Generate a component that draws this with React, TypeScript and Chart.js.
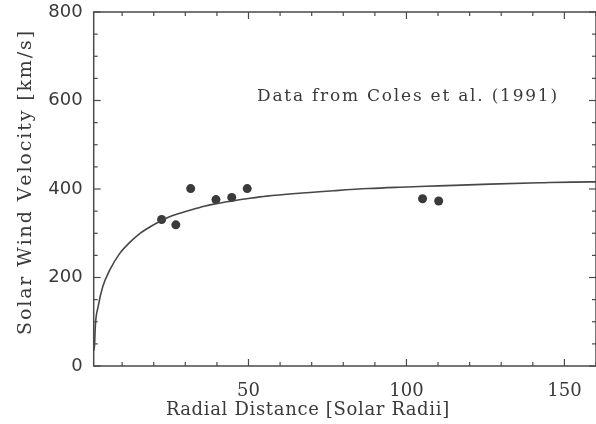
import React, { useEffect, useRef } from "react";
import { Chart, registerables } from "chart.js";

Chart.register(...registerables);

// Observed data points (Coles et al. 1991)
const obsX = [22.5, 27.0, 31.7, 39.7, 44.7, 49.6, 105.1, 110.2];
const obsY = [331, 319, 401, 376, 381, 401, 378, 373];

// Model curve
const curveX = [1.1, 1.3, 1.5, 2.4, 3.9, 6.1, 9.2, 12.5, 15, 18.5, 22.5, 26, 31.5, 36, 39.9, 45, 50.5, 55.8, 65, 76.8, 88, 97.9, 110, 126.4, 142, 158, 160];
const curveY = [35, 51, 89, 134, 180, 217, 254, 280, 296, 313, 329, 340, 352, 361, 367, 373, 379, 384, 390, 396, 401, 404, 407, 411, 414, 416, 416];

// Ticks
const xTickLabels = [50, 100, 150];
const xMinorTicks = [10, 20, 30, 40, 60, 70, 80, 90, 110, 120, 130, 140, 160];
const yTickLabels = [0, 200, 400, 600, 800];
const yMinorTicks = [50, 100, 150, 250, 300, 350, 450, 500, 550, 650, 700, 750];

const xTitle = "Radial Distance [Solar Radii]";
const yTitle = "Solar Wind Velocity [km/s]";
const noteText = "Data from Coles et al. (1991)";
const noteX = 52.7;
const noteY = 600;

const INK = "#3a3a3a";

function spacedText(ctx: any, text: string, x: number, y: number, targetWidth: number) {
  // draws text centred on x, spreading letters so the text spans targetWidth
  const natural = ctx.measureText(text).width;
  const n = Math.max(text.length - 1, 1);
  const gap = (targetWidth - natural) / n;
  let cx = x - targetWidth / 2;
  for (const ch of text) {
    ctx.fillText(ch, cx, y);
    cx += ctx.measureText(ch).width + gap;
  }
}

const framePlugin = {
  id: "frameTicks",
  afterDraw(chart: any) {
    const { ctx, chartArea: a, scales } = chart;
    const xs = scales.x;
    const ys = scales.y;
    ctx.save();
    ctx.strokeStyle = "#4a4a4a";
    ctx.lineWidth = 1.5;
    ctx.strokeRect(a.left, a.top, a.right - a.left, a.bottom - a.top);
    ctx.lineWidth = 1.2;
    const tick = (x1: number, y1: number, x2: number, y2: number) => {
      ctx.beginPath();
      ctx.moveTo(x1, y1);
      ctx.lineTo(x2, y2);
      ctx.stroke();
    };
    const drawX = (vals: number[], len: number) => {
      vals.forEach((v) => {
        const px = xs.getPixelForValue(v);
        tick(px, a.bottom, px, a.bottom - len);
        tick(px, a.top, px, a.top + len);
      });
    };
    const drawY = (vals: number[], len: number) => {
      vals.forEach((v) => {
        const py = ys.getPixelForValue(v);
        tick(a.left, py, a.left + len, py);
        tick(a.right, py, a.right - len, py);
      });
    };
    drawX(xTickLabels, 7);
    drawX(xMinorTicks, 4);
    drawY(yTickLabels, 7);
    drawY(yMinorTicks, 4);

    ctx.fillStyle = INK;
    ctx.textAlign = "left";
    ctx.textBaseline = "alphabetic";

    // annotation text (left edge at noteX)
    ctx.font = "17px 'DejaVu Serif'";
    const nx = xs.getPixelForValue(noteX);
    spacedText(ctx, noteText, nx + 150, ys.getPixelForValue(noteY), 300);

    // x axis title
    ctx.font = "18px 'DejaVu Serif'";
    spacedText(ctx, xTitle, 308, 415, 284);

    // y axis title (rotated)
    ctx.save();
    ctx.translate(31, (a.top + a.bottom) / 2 - 5);
    ctx.rotate(-Math.PI / 2);
    ctx.font = "19px 'DejaVu Serif'";
    spacedText(ctx, yTitle, 0, 0, 302);
    ctx.restore();

    ctx.restore();
  },
};

export default function App() {
  const ref = useRef<HTMLCanvasElement>(null);
  useEffect(() => {
    if (!ref.current) return;
    const chart = new Chart(ref.current, {
      type: "scatter",
      data: {
        datasets: [
          {
            type: "line",
            data: curveX.map((x, i) => ({ x, y: curveY[i] })),
            borderColor: "#474747",
            borderWidth: 1.6,
            pointRadius: 0,
            cubicInterpolationMode: "monotone",
            fill: false,
          } as any,
          {
            type: "scatter",
            data: obsX.map((x, i) => ({ x, y: obsY[i] })),
            backgroundColor: "#3a3a3a",
            borderColor: "#3a3a3a",
            pointRadius: 4.5,
            borderWidth: 0,
          },
        ],
      },
      options: {
        responsive: false,
        animation: false,
        layout: { autoPadding: false, padding: { top: 12, right: 0, bottom: 0, left: 0 } },
        plugins: { legend: { display: false }, tooltip: { enabled: false } },
        scales: {
          x: {
            type: "linear",
            min: 1,
            max: 160,
            grid: { display: false, drawTicks: false },
            border: { display: false },
            afterBuildTicks: (s: any) => {
              s.ticks = xTickLabels.map((v) => ({ value: v }));
            },
            afterFit: (s: any) => {
              s.height = 58;
              s.paddingLeft = 0;
              s.paddingRight = 0;
            },
            ticks: {
              color: INK,
              padding: 15,
              maxRotation: 0,
              font: { family: "'DejaVu Serif'", size: 18 },
            },
            title: { display: false, text: xTitle },
          },
          y: {
            type: "linear",
            min: 0,
            max: 800,
            grid: { display: false, drawTicks: false },
            border: { display: false },
            afterBuildTicks: (s: any) => {
              s.ticks = yTickLabels.map((v) => ({ value: v }));
            },
            afterFit: (s: any) => {
              s.width = 93.7;
              s.paddingTop = 0;
              s.paddingBottom = 0;
            },
            ticks: {
              color: INK,
              padding: 11,
              font: { family: "'DejaVu Sans'", size: 18 },
            },
            title: { display: false, text: yTitle },
          },
        },
      },
      plugins: [framePlugin],
    });
    return () => chart.destroy();
  }, []);
  return (
    <div style={{ position: "absolute", left: 0, top: 0, width: 596, height: 424, background: "#fff" }}>
      <canvas ref={ref} width={596} height={424} style={{ display: "block" }} />
    </div>
  );
}
